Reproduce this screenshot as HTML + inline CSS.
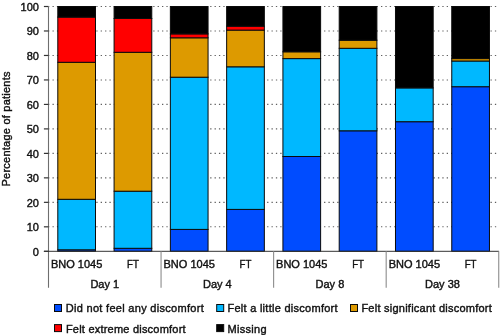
<!DOCTYPE html><html><head><meta charset="utf-8"><style>html,body{margin:0;padding:0;background:#fff;width:500px;height:336px;overflow:hidden}svg{display:block}text{font-family:"Liberation Sans",sans-serif;font-size:11px;fill:#111;stroke:#111;stroke-width:0.4px}</style></head><body>
<svg width="500" height="336" viewBox="0 0 500 336">
<line x1="49.10" y1="226.82" x2="498.74" y2="226.82" stroke="#606060" stroke-width="1.1" stroke-dasharray="1.3 3.08" stroke-dashoffset="-3.4"/>
<line x1="49.10" y1="202.34" x2="498.74" y2="202.34" stroke="#606060" stroke-width="1.1" stroke-dasharray="1.3 3.08" stroke-dashoffset="-3.4"/>
<line x1="49.10" y1="177.86" x2="498.74" y2="177.86" stroke="#606060" stroke-width="1.1" stroke-dasharray="1.3 3.08" stroke-dashoffset="-3.4"/>
<line x1="49.10" y1="153.38" x2="498.74" y2="153.38" stroke="#606060" stroke-width="1.1" stroke-dasharray="1.3 3.08" stroke-dashoffset="-3.4"/>
<line x1="49.10" y1="128.90" x2="498.74" y2="128.90" stroke="#606060" stroke-width="1.1" stroke-dasharray="1.3 3.08" stroke-dashoffset="-3.4"/>
<line x1="49.10" y1="104.42" x2="498.74" y2="104.42" stroke="#606060" stroke-width="1.1" stroke-dasharray="1.3 3.08" stroke-dashoffset="-3.4"/>
<line x1="49.10" y1="79.94" x2="498.74" y2="79.94" stroke="#606060" stroke-width="1.1" stroke-dasharray="1.3 3.08" stroke-dashoffset="-3.4"/>
<line x1="49.10" y1="55.46" x2="498.74" y2="55.46" stroke="#606060" stroke-width="1.1" stroke-dasharray="1.3 3.08" stroke-dashoffset="-3.4"/>
<line x1="49.10" y1="30.98" x2="498.74" y2="30.98" stroke="#606060" stroke-width="1.1" stroke-dasharray="1.3 3.08" stroke-dashoffset="-3.4"/>
<line x1="49.10" y1="6.50" x2="498.74" y2="6.50" stroke="#606060" stroke-width="1.1" stroke-dasharray="1.3 3.08" stroke-dashoffset="-3.4"/>
<rect x="57.80" y="249.80" width="37.70" height="1.50" fill="#004cff" stroke="#0a0a0a" stroke-width="1"/>
<rect x="57.80" y="199.30" width="37.70" height="50.50" fill="#00b8ff" stroke="#0a0a0a" stroke-width="1"/>
<rect x="57.80" y="62.30" width="37.70" height="137.00" fill="#dd9a00" stroke="#0a0a0a" stroke-width="1"/>
<rect x="57.80" y="17.10" width="37.70" height="45.20" fill="#ff0000" stroke="#0a0a0a" stroke-width="1"/>
<rect x="57.80" y="6.50" width="37.70" height="10.60" fill="#000000" stroke="#0a0a0a" stroke-width="1"/>
<rect x="114.08" y="248.30" width="37.70" height="3.00" fill="#004cff" stroke="#0a0a0a" stroke-width="1"/>
<rect x="114.08" y="191.20" width="37.70" height="57.10" fill="#00b8ff" stroke="#0a0a0a" stroke-width="1"/>
<rect x="114.08" y="52.30" width="37.70" height="138.90" fill="#dd9a00" stroke="#0a0a0a" stroke-width="1"/>
<rect x="114.08" y="18.50" width="37.70" height="33.80" fill="#ff0000" stroke="#0a0a0a" stroke-width="1"/>
<rect x="114.08" y="6.50" width="37.70" height="12.00" fill="#000000" stroke="#0a0a0a" stroke-width="1"/>
<rect x="170.36" y="229.40" width="37.70" height="21.90" fill="#004cff" stroke="#0a0a0a" stroke-width="1"/>
<rect x="170.36" y="77.20" width="37.70" height="152.20" fill="#00b8ff" stroke="#0a0a0a" stroke-width="1"/>
<rect x="170.36" y="37.80" width="37.70" height="39.40" fill="#dd9a00" stroke="#0a0a0a" stroke-width="1"/>
<rect x="170.36" y="33.90" width="37.70" height="3.90" fill="#ff0000" stroke="#0a0a0a" stroke-width="1"/>
<rect x="170.36" y="6.50" width="37.70" height="27.40" fill="#000000" stroke="#0a0a0a" stroke-width="1"/>
<rect x="226.64" y="209.40" width="37.70" height="41.90" fill="#004cff" stroke="#0a0a0a" stroke-width="1"/>
<rect x="226.64" y="66.80" width="37.70" height="142.60" fill="#00b8ff" stroke="#0a0a0a" stroke-width="1"/>
<rect x="226.64" y="30.10" width="37.70" height="36.70" fill="#dd9a00" stroke="#0a0a0a" stroke-width="1"/>
<rect x="226.64" y="26.20" width="37.70" height="3.90" fill="#ff0000" stroke="#0a0a0a" stroke-width="1"/>
<rect x="226.64" y="6.50" width="37.70" height="19.70" fill="#000000" stroke="#0a0a0a" stroke-width="1"/>
<rect x="282.92" y="156.50" width="37.70" height="94.80" fill="#004cff" stroke="#0a0a0a" stroke-width="1"/>
<rect x="282.92" y="58.60" width="37.70" height="97.90" fill="#00b8ff" stroke="#0a0a0a" stroke-width="1"/>
<rect x="282.92" y="51.80" width="37.70" height="6.80" fill="#dd9a00" stroke="#0a0a0a" stroke-width="1"/>
<rect x="282.92" y="6.50" width="37.70" height="45.30" fill="#000000" stroke="#0a0a0a" stroke-width="1"/>
<rect x="339.20" y="130.80" width="37.70" height="120.50" fill="#004cff" stroke="#0a0a0a" stroke-width="1"/>
<rect x="339.20" y="48.30" width="37.70" height="82.50" fill="#00b8ff" stroke="#0a0a0a" stroke-width="1"/>
<rect x="339.20" y="40.20" width="37.70" height="8.10" fill="#dd9a00" stroke="#0a0a0a" stroke-width="1"/>
<rect x="339.20" y="6.50" width="37.70" height="33.70" fill="#000000" stroke="#0a0a0a" stroke-width="1"/>
<rect x="395.48" y="121.70" width="37.70" height="129.60" fill="#004cff" stroke="#0a0a0a" stroke-width="1"/>
<rect x="395.48" y="87.90" width="37.70" height="33.80" fill="#00b8ff" stroke="#0a0a0a" stroke-width="1"/>
<rect x="395.48" y="6.50" width="37.70" height="81.40" fill="#000000" stroke="#0a0a0a" stroke-width="1"/>
<rect x="451.76" y="86.70" width="37.70" height="164.60" fill="#004cff" stroke="#0a0a0a" stroke-width="1"/>
<rect x="451.76" y="61.00" width="37.70" height="25.70" fill="#00b8ff" stroke="#0a0a0a" stroke-width="1"/>
<rect x="451.76" y="58.60" width="37.70" height="2.40" fill="#dd9a00" stroke="#0a0a0a" stroke-width="1"/>
<rect x="451.76" y="6.50" width="37.70" height="52.10" fill="#000000" stroke="#0a0a0a" stroke-width="1"/>
<line x1="48.5" y1="6.5" x2="48.5" y2="287.8" stroke="#6e6e6e" stroke-width="1.1"/>
<line x1="43.9" y1="251.3" x2="499.04" y2="251.3" stroke="#333" stroke-width="1"/>
<line x1="43.9" y1="251.30" x2="48.5" y2="251.30" stroke="#333" stroke-width="1.2"/>
<line x1="43.9" y1="226.82" x2="48.5" y2="226.82" stroke="#333" stroke-width="1.2"/>
<line x1="43.9" y1="202.34" x2="48.5" y2="202.34" stroke="#333" stroke-width="1.2"/>
<line x1="43.9" y1="177.86" x2="48.5" y2="177.86" stroke="#333" stroke-width="1.2"/>
<line x1="43.9" y1="153.38" x2="48.5" y2="153.38" stroke="#333" stroke-width="1.2"/>
<line x1="43.9" y1="128.90" x2="48.5" y2="128.90" stroke="#333" stroke-width="1.2"/>
<line x1="43.9" y1="104.42" x2="48.5" y2="104.42" stroke="#333" stroke-width="1.2"/>
<line x1="43.9" y1="79.94" x2="48.5" y2="79.94" stroke="#333" stroke-width="1.2"/>
<line x1="43.9" y1="55.46" x2="48.5" y2="55.46" stroke="#333" stroke-width="1.2"/>
<line x1="43.9" y1="30.98" x2="48.5" y2="30.98" stroke="#333" stroke-width="1.2"/>
<line x1="43.9" y1="6.50" x2="48.5" y2="6.50" stroke="#333" stroke-width="1.2"/>
<line x1="161.06" y1="251.3" x2="161.06" y2="287.8" stroke="#8c8c8c" stroke-width="1.1"/>
<line x1="273.62" y1="251.3" x2="273.62" y2="287.8" stroke="#8c8c8c" stroke-width="1.1"/>
<line x1="386.18" y1="251.3" x2="386.18" y2="287.8" stroke="#8c8c8c" stroke-width="1.1"/>
<line x1="498.74" y1="251.3" x2="498.74" y2="287.8" stroke="#8c8c8c" stroke-width="1.1"/>
<g opacity="0.999">
<text x="38.9" y="255.50" text-anchor="end">0</text>
<text x="38.9" y="231.02" text-anchor="end">10</text>
<text x="38.9" y="206.54" text-anchor="end">20</text>
<text x="38.9" y="182.06" text-anchor="end">30</text>
<text x="38.9" y="157.58" text-anchor="end">40</text>
<text x="38.9" y="133.10" text-anchor="end">50</text>
<text x="38.9" y="108.62" text-anchor="end">60</text>
<text x="38.9" y="84.14" text-anchor="end">70</text>
<text x="38.9" y="59.66" text-anchor="end">80</text>
<text x="38.9" y="35.18" text-anchor="end">90</text>
<text x="38.9" y="10.70" text-anchor="end">100</text>
<text transform="translate(10.4,129.0) rotate(-90)" text-anchor="middle" textLength="114.9" lengthAdjust="spacing">Percentage of patients</text>
<text x="76.65" y="268.1" text-anchor="middle">BNO 1045</text>
<text x="132.93" y="268.1" text-anchor="middle" textLength="11.8" lengthAdjust="spacingAndGlyphs">FT</text>
<text x="189.21" y="268.1" text-anchor="middle">BNO 1045</text>
<text x="245.49" y="268.1" text-anchor="middle" textLength="11.8" lengthAdjust="spacingAndGlyphs">FT</text>
<text x="301.77" y="268.1" text-anchor="middle">BNO 1045</text>
<text x="358.05" y="268.1" text-anchor="middle" textLength="11.8" lengthAdjust="spacingAndGlyphs">FT</text>
<text x="414.33" y="268.1" text-anchor="middle">BNO 1045</text>
<text x="470.61" y="268.1" text-anchor="middle" textLength="11.8" lengthAdjust="spacingAndGlyphs">FT</text>
<text x="104.78" y="287.6" text-anchor="middle">Day 1</text>
<text x="217.34" y="287.6" text-anchor="middle">Day 4</text>
<text x="329.90" y="287.6" text-anchor="middle">Day 8</text>
<text x="442.46" y="287.6" text-anchor="middle">Day 38</text>
<rect x="54.5" y="304.5" width="7" height="7" fill="#004cff" stroke="#0a0a0a" stroke-width="1"/>
<text x="65.8" y="311.6" textLength="137.9" lengthAdjust="spacing">Did not feel any discomfort</text>
<rect x="216.7" y="304.5" width="7" height="7" fill="#00b8ff" stroke="#0a0a0a" stroke-width="1"/>
<text x="227.4" y="311.6" textLength="110.2" lengthAdjust="spacing">Felt a little discomfort</text>
<rect x="350.5" y="304.5" width="7" height="7" fill="#dd9a00" stroke="#0a0a0a" stroke-width="1"/>
<text x="361.4" y="311.6" textLength="130.4" lengthAdjust="spacing">Felt significant discomfort</text>
<rect x="54.5" y="324.6" width="7" height="7" fill="#ff0000" stroke="#0a0a0a" stroke-width="1"/>
<text x="65.9" y="332.6" textLength="119.7" lengthAdjust="spacing">Felt extreme discomfort</text>
<rect x="216.7" y="324.6" width="7" height="7" fill="#000000" stroke="#0a0a0a" stroke-width="1"/>
<text x="227.4" y="332.6" textLength="39.2" lengthAdjust="spacing">Missing</text>
</g>
</svg></body></html>
